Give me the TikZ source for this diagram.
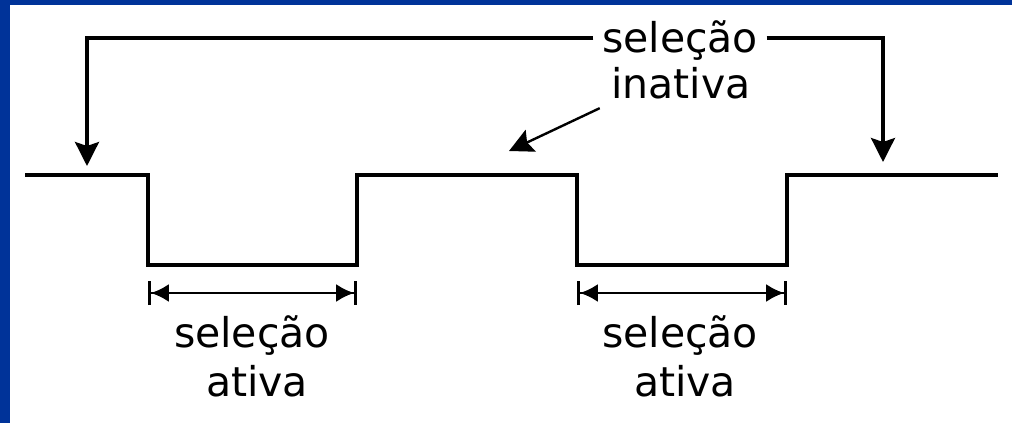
\documentclass[tikz,border=0pt]{standalone}
\usepackage{fontspec}
\setmainfont{DejaVu Sans}
\usetikzlibrary{arrows.meta}
\definecolor{slideblue}{RGB}{0,51,153}

\begin{document}
\begin{tikzpicture}[x=1pt,y=-1pt,line width=3.2pt,
  lbl/.style={inner sep=0pt,anchor=base,font=\fontsize{41}{49}\selectfont},
  dimline/.style={line width=2.8pt,{Bar[width=24pt]Latex[length=18pt,width=18pt]}-{Latex[length=18pt,width=18pt]Bar[width=24pt]}},
  pointer/.style={-{Stealth[length=24pt,width=24pt,inset=4pt]}}]
% slide frame
\fill[white] (0,0) rectangle (1012,423);
\fill[slideblue] (0,0) rectangle (10,423);
\fill[slideblue] (0,0) rectangle (1012,5);

% chip select signal
\coordinate (w0) at (25,175);
\coordinate (fall1) at (148,175);
\coordinate (rise1) at (357,265);
\coordinate (fall2) at (577,175);
\coordinate (rise2) at (787,265);
\coordinate (w1) at (998,175);
\draw[line join=miter] (w0) -- (fall1) |- (rise1) |- (fall2) |- (rise2) |- (w1);

% inactive level
\node[lbl,inner xsep=7pt] (topsel) at (680,52) {seleção};
\node[lbl] (inact) at (681,98) {inativa};
\coordinate (ltip) at (87,166);
\coordinate (rtip) at (883,162);
\coordinate (gap) at (509,151);
\draw[pointer] ([yshift=14pt]topsel.base west) -| (ltip);
\draw[pointer] ([yshift=14pt]topsel.base east) -| (rtip);
\draw[pointer,line width=2.4pt] ([shift={(-10pt,-8pt)}]inact.south west) -- (gap);

% active intervals
\coordinate (a1) at (148,293);
\coordinate (b1) at (357,293);
\coordinate (a2) at (577,293);
\coordinate (b2) at (787,293);
\draw[dimline] (a1) -- (b1);
\draw[dimline] (a2) -- (b2);
\node[lbl] (sel1) at (252,347) {seleção};
\node[lbl] (act1) at (257,396) {ativa};
\node[lbl] (sel2) at (680,347) {seleção};
\node[lbl] (act2) at (685,396) {ativa};
\end{tikzpicture}
\end{document}
